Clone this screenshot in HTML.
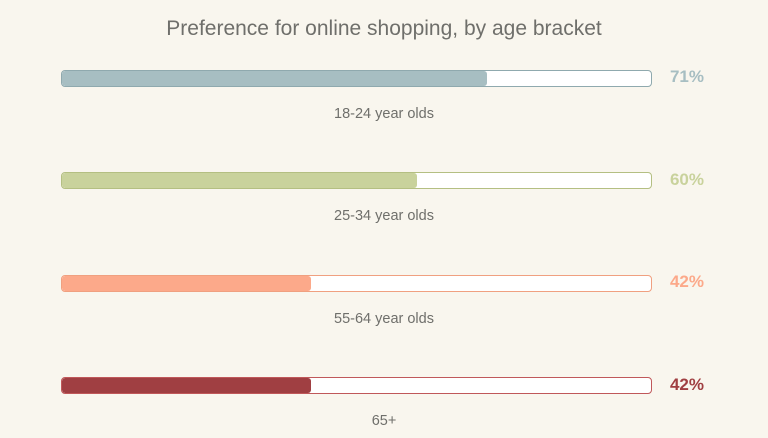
<!DOCTYPE html>
<html><head><style>
body{margin:0;width:768px;height:438px;background:#f9f6ee;font-family:"Liberation Sans",sans-serif;position:relative;overflow:hidden}
.t{position:absolute;top:17px;left:0;width:768px;text-align:center;font-size:21px;color:#6f6f6b}
.bar{position:absolute;left:61px;width:589px;height:15px;border:1px solid;border-radius:4px;background:#fff;overflow:hidden}
.f{height:100%;border-radius:3px}
.p{position:absolute;font-size:17px;font-weight:bold;right:64px}
.l{position:absolute;left:0;width:768px;text-align:center;font-size:14.5px;color:#6f6f6b}
</style></head><body>
<div class="t">Preference for online shopping, by age bracket</div>

<div class="bar" style="top:70px;border-color:#8fa9ae"><div class="f" style="width:425px;background:#a7bec2"></div></div>
<div class="p" style="top:67px;color:#a7bec2">71%</div>
<div class="l" style="top:106px">18-24 year olds</div>

<div class="bar" style="top:172px;border-color:#b4bf82"><div class="f" style="width:355px;background:#c9d29c"></div></div>
<div class="p" style="top:170px;color:#c9d29c">60%</div>
<div class="l" style="top:208px">25-34 year olds</div>

<div class="bar" style="top:275px;border-color:#f0a080"><div class="f" style="width:249px;background:#fca98a"></div></div>
<div class="p" style="top:272px;color:#fca98a">42%</div>
<div class="l" style="top:311px">55-64 year olds</div>

<div class="bar" style="top:377px;border-color:#c0585a"><div class="f" style="width:249px;background:#a03f42"></div></div>
<div class="p" style="top:375px;color:#a03f42">42%</div>
<div class="l" style="top:413px">65+</div>
</body></html>
